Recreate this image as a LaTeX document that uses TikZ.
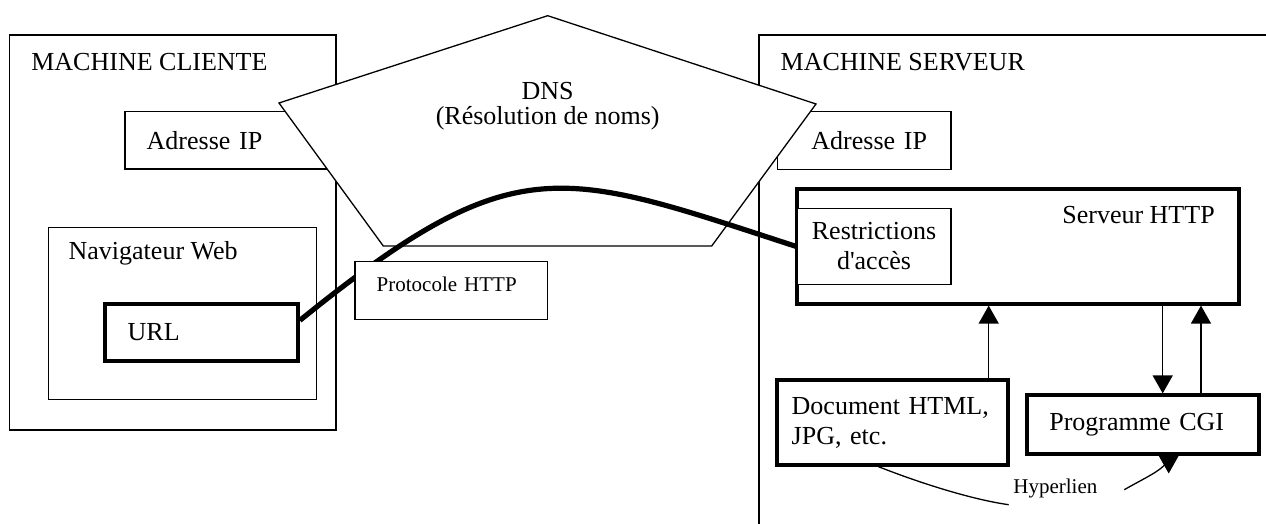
\documentclass[tikz,border=0pt]{standalone}
\usepackage{fontspec}
\setmainfont{Liberation Serif}
\usetikzlibrary{arrows.meta}

\begin{document}
\begin{tikzpicture}[x=0.5pt, y=-0.5pt, line width=0.65pt,
  font=\fontsize{13}{15}\selectfont,
  area/.style={draw, fill=white, inner sep=0pt},
  box/.style={draw, fill=white, align=left, inner ysep=0pt},
  boldbox/.style={box, line width=1.9pt},
  heading/.style={anchor=base west, inner sep=0pt},
  smalltext/.style={font=\fontsize{10.5}{12.5}\selectfont},
  arr/.style={-{Triangle[length=9pt, width=10pt]}},
  link/.style={line width=2.6pt}]
  \useasboundingbox (0,0) rectangle (1266,524);
  \clip (0,0) rectangle (1266,524);

  \node[area, minimum width=163.35pt, minimum height=197.5pt] (client) at (172.65,232.5) {};
  \node[heading] (clientname) at (30.7,70.5) {MACHINE CLIENTE};
  \node[box, minimum height=28.65pt, text width=85.8pt, inner xsep=10.85pt] (ipc) at (232.5,140.35) {Adresse IP};
  \node[area, minimum width=134.2pt, minimum height=85.8pt] (nav) at (182.5,313.5) {};
  \node[heading] (navname) at (68,260) {Navigateur Web};
  \node[boldbox, minimum height=28.65pt, text width=73.8pt, inner xsep=11.35pt] (url) at (201.5,332.35) {URL};

  \node[area, minimum width=270.5pt, minimum height=262.5pt] (server) at (1029.5,297.5) {};
  \node[heading] (servername) at (780,70.5) {MACHINE SERVEUR};
  \node[box, align=right, minimum height=28.8pt, text width=62.65pt, inner xsep=12pt] (ips) at (864.35,140.5) {Adresse IP};
  \node[boldbox, minimum width=221.3pt, minimum height=57.2pt] (http) at (1018,246.5) {};
  \node[heading] (httpname) at (1061.7,223.3) {Serveur HTTP};
  \node[box, align=center, minimum height=38.2pt, text width=70pt, inner xsep=3.5pt] (restr) at (874,246.5) {Restrictions\\d\textquotesingle accès};
  \node[boldbox, minimum height=42.2pt, text width=101.1pt, inner xsep=7.2pt] (doc) at (892.8,422.5) {Document HTML,\\JPG, etc.};
  \node[boldbox, minimum height=29.2pt, text width=93.85pt, inner xsep=11.15pt] (cgi) at (1143.15,424.5) {Programme CGI};

  \draw[fill=white] (547.7,15.7) -- (816,104) -- (711.7,246) -- (383.3,246) -- (279,103) -- cycle;
  \node[align=center, font=\fontsize{13}{12.5}\selectfont] (dns) at (547.7,106.2) {DNS\\(Résolution de noms)};

  \draw[link] ([yshift=6pt]url.east) .. controls (515.6,146) and (559.5,169.5) .. (restr.west);
  \node[box, smalltext, minimum height=28.8pt, text width=74.65pt, inner xsep=10.85pt, text depth=6pt] (proto) at (451.35,290.5) {Protocole HTTP};

  \draw[arr] (988.7,0 |- doc.north) -- (988.7,0 |- http.south);
  \draw[arr] (1162.7,0 |- http.south) -- (1162.7,0 |- cgi.north);
  \draw[arr] (1201,0 |- cgi.north) -- (1201,0 |- http.south);

  \node[heading, smalltext] (hyper) at (1012.7,493.7) {Hyperlien};
  \coordinate (hla) at (1008.7,504.7);
  \coordinate (hlb) at (1124.3,489.7);
  \coordinate (hlc) at (1168.7,473.5);
  \draw (878.3,0 |- doc.south) .. controls (925,485) and (975,500) .. (hla);
  \draw[arr] (hlb) .. controls (1148,476) and (1168.7,468) .. (hlc);
\end{tikzpicture}
\end{document}
